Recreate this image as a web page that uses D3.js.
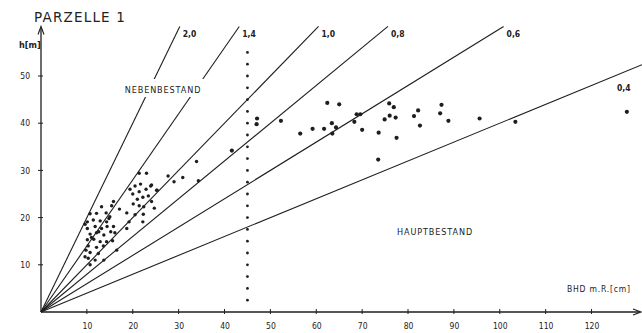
<!DOCTYPE html>
<html>
<head>
<meta charset="utf-8">
<script src="https://cdn.jsdelivr.net/npm/d3@7"></script>
<style>
  body { margin: 0; background: #fff; }
  svg { display: block; }
  text { fill: #222; font-family: "DejaVu Sans Condensed", "DejaVu Sans", sans-serif; }
</style>
</head>
<body>
<svg id="chart" width="642" height="333"></svg>
<script>
// BHD m.R. [cm] / h [m] of the single trees
var bhd = [
  // small trees
  15.4, 13.2, 12.1, 10.7, 14.2, 15.0, 10.1, 11.4, 12.9, 14.3, 15.8, 10.1, 11.8, 13.2, 14.4,
  10.7, 12.1, 13.7, 15.2, 16.1, 10.1, 11.5, 12.9, 14.3, 15.6, 10.3, 12.1, 13.6, 10.7, 12.5,
  16.5, 10.3, 11.8, 10.7, 13.7, 9.6, 9.8, 11.0, 9.6, 14.8, 12.6,
  // middle group
  21.4, 23.0, 19.4, 20.5, 21.7, 23.9, 25.3, 20.0, 21.4, 22.9, 22.2, 21.0, 23.4, 20.1, 21.4,
  22.4, 24.1, 24.7, 18.7, 22.3, 19.2, 20.5, 22.2, 18.7, 15.8, 17.1,
  27.7, 29.0, 30.9, 34.3, 24.1, 25.2, 33.9, 41.6,
  // big trees
  62.4, 65.0, 47.1, 47.0, 52.3, 56.5, 59.2, 61.7, 63.4, 64.3, 63.5, 68.8, 69.6, 68.3, 70.0,
  75.9, 76.9, 76.0, 74.9, 77.3, 73.6, 77.5, 73.5, 81.3, 82.2, 82.6, 87.3, 87.0, 88.8, 95.6,
  103.4, 127.7
];
var hoehe = [
  22.5, 22.3, 20.9, 20.8, 21.0, 20.2, 19.1, 19.5, 19.3, 19.1, 18.1, 17.7, 18.1, 17.7, 18.1,
  16.5, 16.8, 16.3, 17.0, 16.8, 15.3, 15.4, 14.9, 14.9, 15.1, 14.0, 13.7, 14.0, 12.6, 12.4,
  13.1, 11.4, 11.0, 10.0, 11.0, 11.7, 13.1, 15.8, 18.6, 19.8, 17.0,
  29.4, 29.4, 26.0, 26.7, 27.1, 26.7, 25.8, 25.0, 25.5, 26.0, 24.3, 23.9, 24.6, 22.9, 22.5,
  22.3, 23.4, 22.0, 21.0, 20.7, 19.1, 20.6, 19.1, 17.7, 23.4, 21.8,
  28.8, 27.6, 28.5, 27.8, 26.9, 25.8, 31.9, 34.2,
  44.3, 44.0, 41.0, 39.8, 40.5, 37.8, 38.8, 38.8, 40.0, 39.1, 37.8, 41.9, 41.9, 40.3, 38.6,
  44.2, 43.4, 41.6, 40.8, 41.2, 38.0, 36.9, 32.3, 41.5, 42.7, 39.5, 43.9, 42.1, 40.5, 41.0,
  40.3, 42.4
];

// h/d ratio lines and their labels
var ratios = [2.0, 1.4, 1.0, 0.8, 0.6, 0.4];
var ratioLabels = ["2,0", "1,4", "1,0", "0,8", "0,6", "0,4"];

var xTicks = [10, 20, 30, 40, 50, 60, 70, 80, 90, 100, 110, 120];
var yTicks = [10, 20, 30, 40, 50];

var grenzeBhd = 45;   // dotted separation line
var grenzeDots = d3.range(2.5, 55.1, 2.5);

var svg = d3.select("#chart");

var x = d3.scaleLinear().domain([0, 131]).range([41, 642]);
var y = d3.scaleLinear().domain([0, 60]).range([312, 28.8]);
var hMax = 60.5;

var ink = "#1e1e1e";

// axes
var xAxis = d3.axisBottom(x).tickValues(xTicks).tickSize(0).tickPadding(11);
var gx = svg.append("g").attr("transform", "translate(0," + y(0) + ")").call(xAxis);
gx.select(".domain").remove();
gx.selectAll("text").style("font-size", "8.5px").attr("fill", ink);

var yAxis = d3.axisLeft(y).tickValues(yTicks).tickSize(0).tickPadding(11);
var gy = svg.append("g").attr("transform", "translate(" + x(0) + ",0)").call(yAxis);
gy.select(".domain").remove();
gy.selectAll("text").style("font-size", "8.5px").attr("fill", ink);

// axis lines with arrows
svg.append("line").attr("x1", x(0)).attr("x2", 640).attr("y1", y(0)).attr("y2", y(0))
  .attr("stroke", ink).attr("stroke-width", 1.3);
svg.append("path").attr("d", "M633," + (y(0) - 3) + " L641," + y(0) + " L633," + (y(0) + 3))
  .attr("fill", "none").attr("stroke", ink).attr("stroke-width", 1.1);
svg.append("line").attr("x1", x(0)).attr("x2", x(0)).attr("y1", y(0)).attr("y2", y(hMax) + 2)
  .attr("stroke", ink).attr("stroke-width", 1.3);
svg.append("path").attr("d", "M" + (x(0) - 3) + "," + (y(hMax) + 8) + " L" + x(0) + "," + y(hMax) + " L" + (x(0) + 3) + "," + (y(hMax) + 8))
  .attr("fill", "none").attr("stroke", ink).attr("stroke-width", 1.1);

svg.selectAll(".xt").data(xTicks).enter().append("line")
  .attr("x1", function (d) { return x(d); }).attr("x2", function (d) { return x(d); })
  .attr("y1", y(0) - 3).attr("y2", y(0) + 2)
  .attr("stroke", ink).attr("stroke-width", 1);
svg.selectAll(".yt").data(yTicks).enter().append("line")
  .attr("x1", x(0) - 3).attr("x2", x(0) + 2)
  .attr("y1", function (d) { return y(d); }).attr("y2", function (d) { return y(d); })
  .attr("stroke", ink).attr("stroke-width", 1);

// ratio lines
var xMax = x.domain()[1];
svg.selectAll(".ratio").data(ratios).enter().append("line")
  .attr("x1", x(0)).attr("y1", y(0))
  .attr("x2", function (r) { return x(Math.min(hMax / r, xMax)); })
  .attr("y2", function (r) { return y(Math.min(hMax, r * xMax)); })
  .attr("stroke", ink).attr("stroke-width", 1.1);

svg.selectAll(".ratioLabel").data(ratios).enter().append("text")
  .attr("x", function (r, i) { return r * xMax > hMax ? x(hMax / r) + 3 : 617; })
  .attr("y", function (r, i) { return r * xMax > hMax ? 37 : 91; })
  .style("font-size", "8.5px").style("font-weight", "bold")
  .text(function (r, i) { return ratioLabels[i]; });

// dotted boundary
svg.selectAll(".grenze").data(grenzeDots).enter().append("circle")
  .attr("cx", x(grenzeBhd)).attr("cy", function (d) { return y(d); })
  .attr("r", 1.4).attr("fill", ink);

// trees
svg.selectAll(".baum").data(bhd).enter().append("circle")
  .attr("cx", function (d) { return x(d); })
  .attr("cy", function (d, i) { return y(hoehe[i]); })
  .attr("r", function (d) { return d > 40 ? 2.1 : 1.7; })
  .attr("fill", ink);

// texts
svg.append("text").attr("x", 34).attr("y", 22).style("font-size", "13.5px")
  .style("letter-spacing", "1.2px")
  .style("font-family", "'DejaVu Sans', sans-serif").text("PARZELLE 1");
svg.append("text").attr("x", 19).attr("y", 48).style("font-size", "9px")
  .style("font-weight", "bold").text("h[m]");

// the lines are cut out behind this label in the original
svg.append("rect").attr("x", 121).attr("y", 79).attr("width", 85).attr("height", 18)
  .attr("fill", "#fff");
svg.append("text").attr("x", 163).attr("y", 93).attr("text-anchor", "middle")
  .style("font-size", "9px").style("letter-spacing", "0.9px").text("NEBENBESTAND");
svg.append("text").attr("x", 435).attr("y", 235).attr("text-anchor", "middle")
  .style("font-size", "9px").style("letter-spacing", "0.9px").text("HAUPTBESTAND");
svg.append("text").attr("x", 567).attr("y", 292)
  .style("font-size", "8.5px").style("letter-spacing", "0.8px").text("BHD m.R.[cm]");
</script>
</body>
</html>
